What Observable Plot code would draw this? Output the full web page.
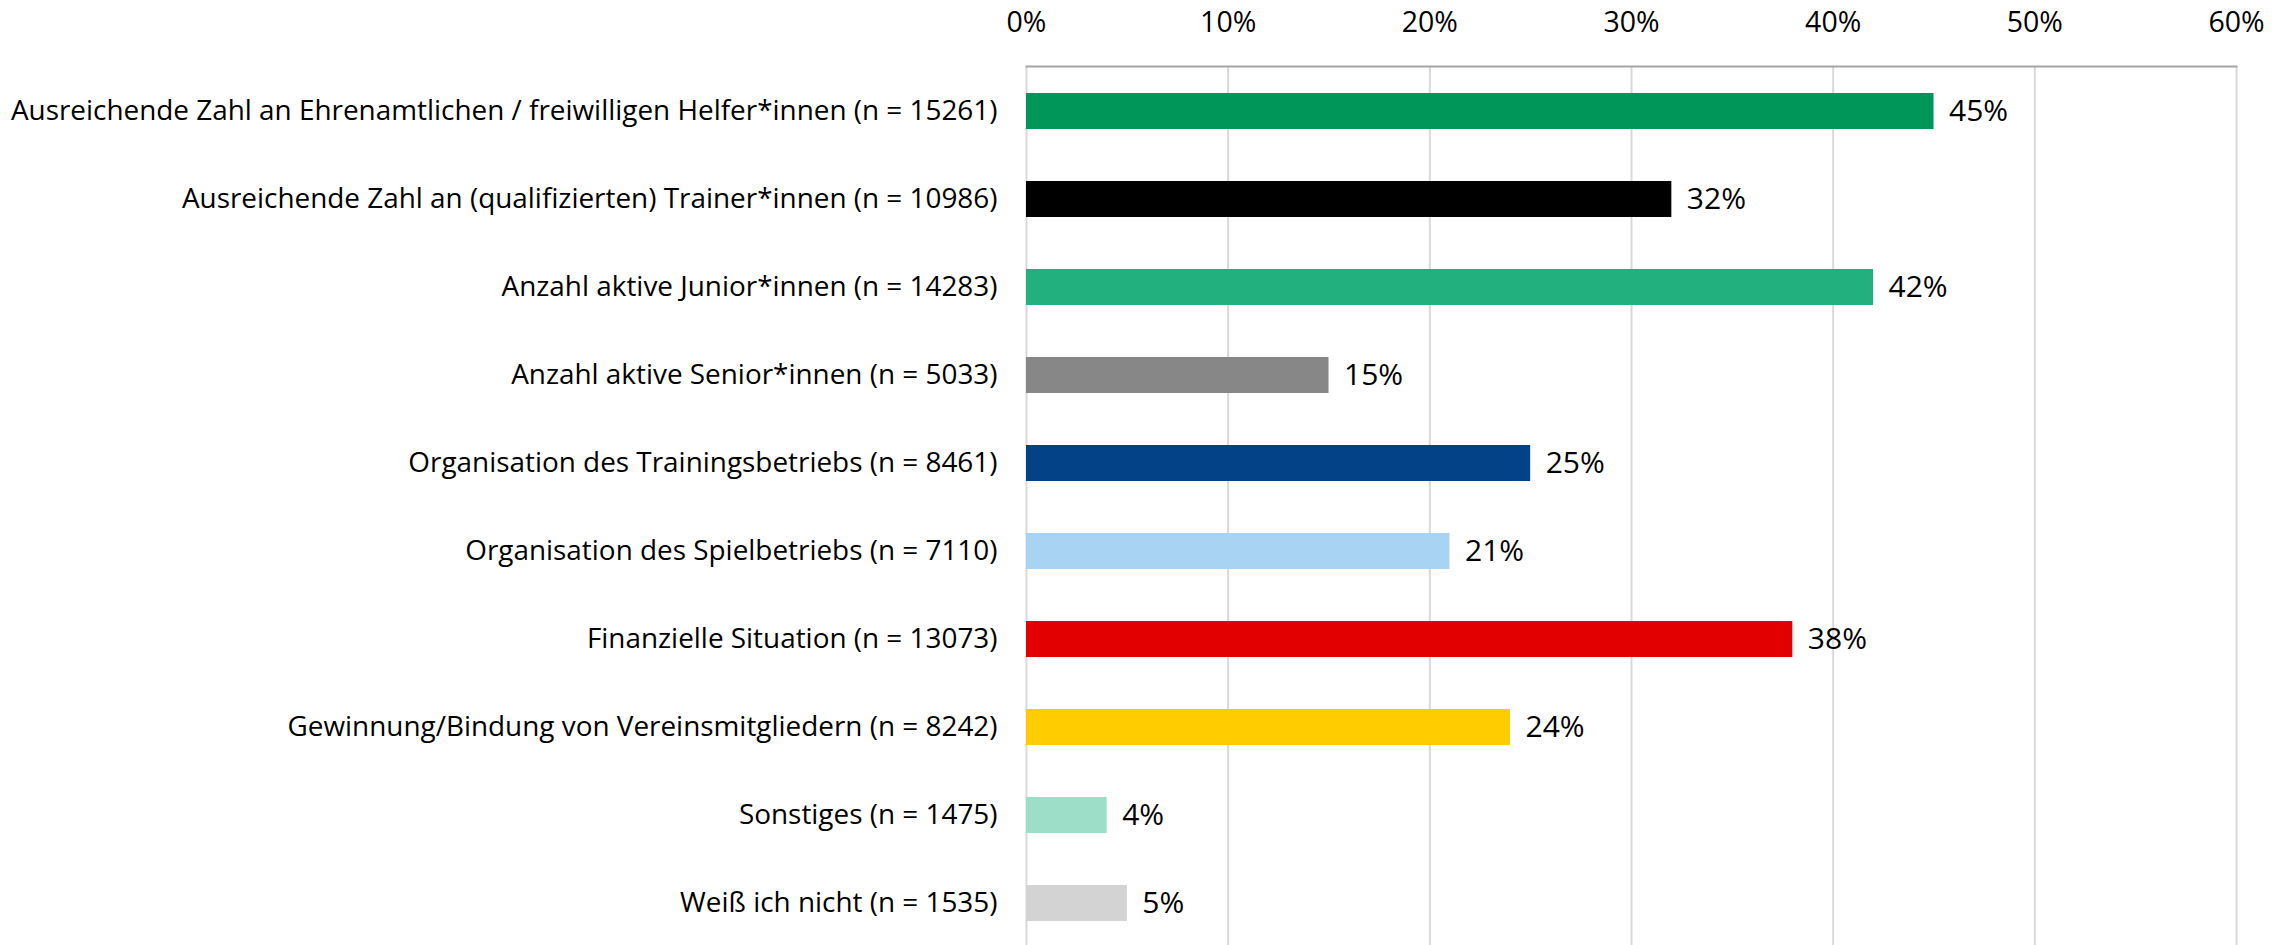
<!DOCTYPE html>
<html>
<head>
<meta charset="utf-8">
<script src="https://cdn.jsdelivr.net/npm/d3@7"></script>
<script src="https://cdn.jsdelivr.net/npm/@observablehq/plot@0.6"></script>
<style>
  html, body { margin: 0; padding: 0; background: #fff; }
  #chart svg { display: block; }
</style>
</head>
<body>
<div id="chart"></div>
<script>
const categories = [
  "Ausreichende Zahl an Ehrenamtlichen / freiwilligen Helfer*innen (n = 15261)",
  "Ausreichende Zahl an (qualifizierten) Trainer*innen (n = 10986)",
  "Anzahl aktive Junior*innen (n = 14283)",
  "Anzahl aktive Senior*innen (n = 5033)",
  "Organisation des Trainingsbetriebs (n = 8461)",
  "Organisation des Spielbetriebs (n = 7110)",
  "Finanzielle Situation (n = 13073)",
  "Gewinnung/Bindung von Vereinsmitgliedern (n = 8242)",
  "Sonstiges (n = 1475)",
  "Weiß ich nicht (n = 1535)"
];
const values = [45, 32, 42, 15, 25, 21, 38, 24, 4, 5];
const barColors = ["#00965a", "#000000", "#22b07f", "#878787", "#034287", "#a8d3f2", "#e30000", "#ffcc00", "#9cdec8", "#d3d3d3"];
const xTicks = [0, 10, 20, 30, 40, 50, 60];

const data = categories.map((c, i) => ({category: c, value: values[i], color: barColors[i]}));

const chart = Plot.plot({
  width: 2289,
  height: 945,
  marginLeft: 1026,
  marginRight: 53,
  marginTop: 66,
  marginBottom: -3,
  style: {fontFamily: "'Open Sans', sans-serif", fontSize: "28px", color: "#000", background: "#fff"},
  x: {domain: [0, 60], label: null},
  y: {domain: categories, paddingInner: 0.592, paddingOuter: 0.296, label: null},
  color: {type: "identity"},
  marks: [
    Plot.gridX(xTicks, {stroke: "#d9d9d9", strokeOpacity: 1, strokeWidth: 2}),
    Plot.axisX(xTicks, {anchor: "top", tickSize: 0, tickPadding: 35, tickFormat: d => d + "%", fontSize: 28.5, label: null}),
    Plot.axisY({anchor: "left", tickSize: 0, tickPadding: 29, label: null, fontSize: 27.9}),
    Plot.barX(data, {x: "value", y: "category", fill: "color"}),
    Plot.frame({anchor: "top", stroke: "#a6a6a6", strokeWidth: 2}),
    Plot.text(data, {x: "value", y: "category", text: d => d.value + "%", textAnchor: "start", dx: 15, fontSize: 30, fill: "#000"})
  ]
});
document.getElementById("chart").appendChild(chart);
</script>
</body>
</html>
